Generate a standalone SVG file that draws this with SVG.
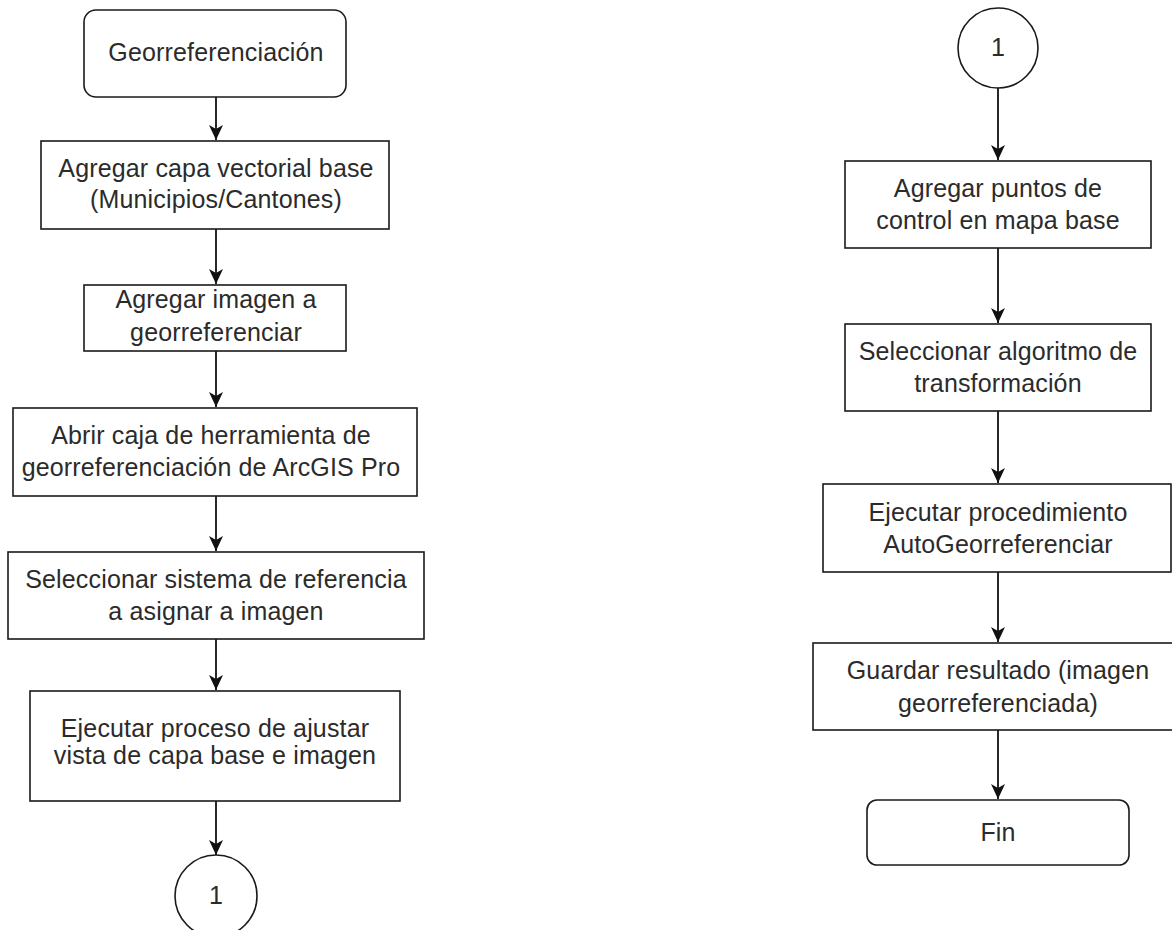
<svg xmlns="http://www.w3.org/2000/svg" width="1172" height="930" viewBox="0 0 1172 930">
<style>
.box{fill:#ffffff;stroke:#1a1a1a;stroke-width:1.6}
.t{font-family:"Liberation Sans",Arial,sans-serif;font-size:25px;fill:#2b2b2b;text-anchor:middle;letter-spacing:0.15px}
.c{fill:none;stroke:#111111;stroke-width:1.8}
</style>
<defs>
<marker id="ah" markerUnits="userSpaceOnUse" markerWidth="16" markerHeight="16" refX="15" refY="8" orient="auto">
<path d="M0,1 L15,8 L0,15 L4,8 z" fill="#111111"/>
</marker>
</defs>
<rect width="1172" height="930" fill="#ffffff"/>
<g id="connectors">
<line class="c" x1="216" y1="97" x2="216" y2="140" marker-end="url(#ah)"/>
<line class="c" x1="216" y1="229" x2="216" y2="284" marker-end="url(#ah)"/>
<line class="c" x1="216" y1="351" x2="216" y2="407" marker-end="url(#ah)"/>
<line class="c" x1="216" y1="496" x2="216" y2="551" marker-end="url(#ah)"/>
<line class="c" x1="216" y1="639" x2="216" y2="690" marker-end="url(#ah)"/>
<line class="c" x1="216" y1="801" x2="216" y2="855" marker-end="url(#ah)"/>
<line class="c" x1="998" y1="87" x2="998" y2="160" marker-end="url(#ah)"/>
<line class="c" x1="998" y1="248" x2="998" y2="323" marker-end="url(#ah)"/>
<line class="c" x1="998" y1="411" x2="998" y2="483" marker-end="url(#ah)"/>
<line class="c" x1="998" y1="572" x2="998" y2="642" marker-end="url(#ah)"/>
<line class="c" x1="998" y1="730" x2="998" y2="799" marker-end="url(#ah)"/>
</g>
<g id="n-start">
<rect class="box" x="84" y="10" width="262" height="87" rx="12"/>
<text class="t" x="216" y="61">Georreferenciación</text>
</g>
<g id="n-capa">
<rect class="box" x="41" y="141" width="348" height="88"/>
<text class="t" x="216" y="177">Agregar capa vectorial base</text>
<text class="t" x="216" y="208">(Municipios/Cantones)</text>
</g>
<g id="n-imagen">
<rect class="box" x="84" y="285" width="262" height="66"/>
<text class="t" x="216" y="308">Agregar imagen a</text>
<text class="t" x="216" y="341">georreferenciar</text>
</g>
<g id="n-caja">
<rect class="box" x="13" y="408" width="404" height="88"/>
<text class="t" x="211" y="444">Abrir caja de herramienta de</text>
<text class="t" x="211" y="476">georreferenciación de ArcGIS Pro</text>
</g>
<g id="n-sistema">
<rect class="box" x="8" y="552" width="416" height="87"/>
<text class="t" x="216" y="588">Seleccionar sistema de referencia</text>
<text class="t" x="216" y="620">a asignar a imagen</text>
</g>
<g id="n-ajustar">
<rect class="box" x="30" y="691" width="370" height="110"/>
<text class="t" x="215" y="737">Ejecutar proceso de ajustar</text>
<text class="t" x="215" y="764">vista de capa base e imagen</text>
</g>
<g id="n-conn-out">
<circle class="box" cx="216" cy="896" r="41"/>
<text class="t" x="216" y="904">1</text>
</g>
<g id="n-conn-in">
<circle class="box" cx="998" cy="48" r="40"/>
<text class="t" x="998" y="56">1</text>
</g>
<g id="n-puntos">
<rect class="box" x="845" y="161" width="306" height="87"/>
<text class="t" x="998" y="197">Agregar puntos de</text>
<text class="t" x="998" y="229">control en mapa base</text>
</g>
<g id="n-algoritmo">
<rect class="box" x="845" y="324" width="306" height="87"/>
<text class="t" x="998" y="360">Seleccionar algoritmo de</text>
<text class="t" x="998" y="392">transformación</text>
</g>
<g id="n-auto">
<rect class="box" x="823" y="484" width="348" height="88"/>
<text class="t" x="998" y="521">Ejecutar procedimiento</text>
<text class="t" x="998" y="553">AutoGeorreferenciar</text>
</g>
<g id="n-guardar">
<rect class="box" x="813" y="643" width="370" height="87"/>
<text class="t" x="998" y="679">Guardar resultado (imagen</text>
<text class="t" x="998" y="712">georreferenciada)</text>
</g>
<g id="n-fin">
<rect class="box" x="867" y="800" width="262" height="65" rx="10"/>
<text class="t" x="998" y="841">Fin</text>
</g>
</svg>
